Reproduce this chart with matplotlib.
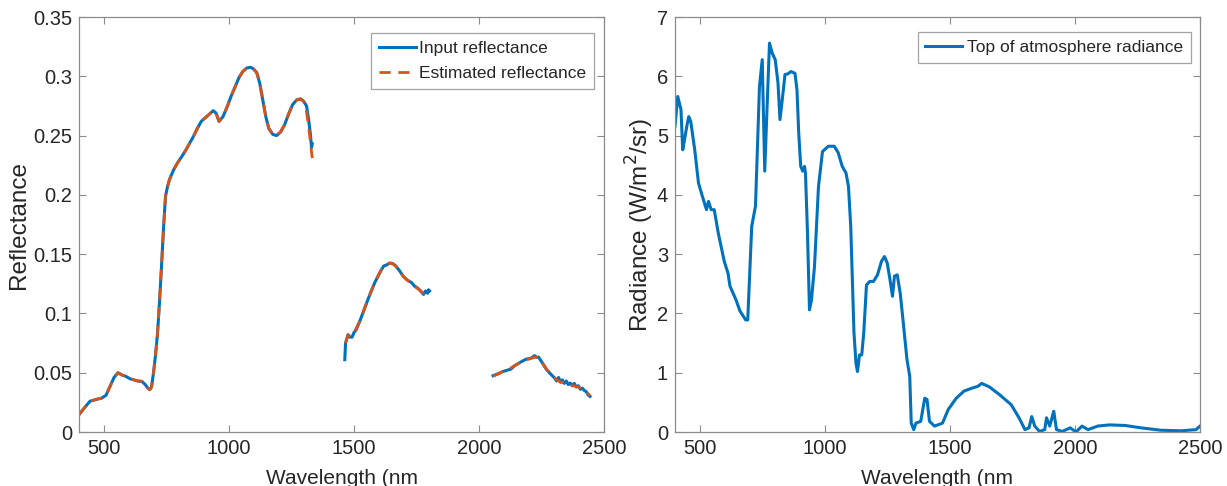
import numpy as np
import matplotlib.pyplot as plt

plt.rcParams['font.family'] = ['Liberation Sans', 'DejaVu Sans']

# reflectance segments (nm, value)
seg1_wl = [400, 420, 444, 470, 492, 508, 524, 540, 556, 572, 587, 603, 619, 635, 651,
           665, 675, 683, 690, 698, 706, 714, 722, 730, 738, 746, 754, 762, 778, 794, 810,
           825, 841, 857, 873, 889, 905, 921, 937, 948, 960, 976, 992, 1008, 1024, 1040,
           1055, 1071, 1087, 1099, 1111, 1123, 1135, 1147, 1159, 1175, 1190, 1206, 1222,
           1238, 1254, 1270, 1286, 1298, 1310, 1318, 1325, 1330, 1333]
seg1_in = [0.0146, 0.020, 0.026, 0.0275, 0.0287, 0.031, 0.0385, 0.046, 0.050, 0.048,
           0.047, 0.045, 0.044, 0.043, 0.0427, 0.040, 0.037, 0.0357, 0.038, 0.050, 0.065,
           0.083, 0.110, 0.140, 0.172, 0.199, 0.207, 0.213, 0.221, 0.227, 0.232, 0.237,
           0.243, 0.249, 0.256, 0.262, 0.265, 0.268, 0.271, 0.269, 0.262, 0.266, 0.274,
           0.283, 0.291, 0.299, 0.304, 0.307, 0.3076, 0.306, 0.303, 0.294, 0.280, 0.266,
           0.256, 0.251, 0.250, 0.253, 0.259, 0.268, 0.276, 0.280, 0.281, 0.279, 0.275,
           0.264, 0.252, 0.240, 0.243]
seg1_est = seg1_in[:-5] + [0.270, 0.258, 0.246, 0.236, 0.231]

seg2_wl = [1463, 1466, 1476, 1484, 1492, 1500, 1508, 1524, 1540, 1556, 1571, 1583,
           1595, 1607, 1619, 1631, 1643, 1655, 1667, 1682, 1698, 1714, 1730, 1742, 1754,
           1766, 1778, 1786, 1794, 1798, 1802]
seg2_in = [0.061, 0.075, 0.082, 0.080, 0.080, 0.084, 0.086, 0.094, 0.103, 0.112,
           0.120, 0.126, 0.131, 0.136, 0.140, 0.141, 0.1425, 0.142, 0.140, 0.136,
           0.131, 0.128, 0.126, 0.123, 0.1215, 0.119, 0.116, 0.119, 0.117, 0.120, 0.119]
seg2_est = [np.nan, 0.075, 0.082, 0.081, 0.081, 0.084, 0.087, 0.094, 0.103, 0.112,
            0.120, 0.126, 0.131, 0.136, 0.140, 0.141, 0.1425, 0.142, 0.140, 0.136,
            0.131, 0.128, 0.125, 0.123, 0.121, 0.119, 0.117, 0.118, 0.118, 0.119, 0.119]

seg3_wl = [2056, 2075, 2095, 2111, 2127, 2143, 2159, 2175, 2190, 2206, 2222, 2230,
           2238, 2254, 2270, 2286, 2302, 2310, 2318, 2326, 2333, 2341, 2349, 2357, 2365,
           2373, 2381, 2389, 2397, 2405, 2413, 2421, 2429, 2437, 2444]
seg3_in = [0.0475, 0.049, 0.051, 0.052, 0.053, 0.056, 0.058, 0.060, 0.0616, 0.062,
           0.0644, 0.063, 0.0632, 0.058, 0.0526, 0.049, 0.0455, 0.043, 0.046, 0.042,
           0.044, 0.041, 0.043, 0.040, 0.0413, 0.039, 0.041, 0.038, 0.039, 0.036,
           0.037, 0.035, 0.034, 0.031, 0.030]
seg3_est = [0.047, 0.049, 0.051, 0.052, 0.054, 0.056, 0.058, 0.060, 0.061, 0.062,
            0.063, 0.063, 0.063, 0.058, 0.053, 0.049, 0.046, 0.044, 0.043, 0.042,
            0.042, 0.041, 0.041, 0.040, 0.040, 0.039, 0.039, 0.038, 0.038, 0.037,
            0.036, 0.035, 0.034, 0.032, 0.031]

# top of atmosphere radiance
toa_wl = [400, 411, 424, 431, 439, 447, 455, 463, 479, 494, 510, 526, 534, 545, 557,
          573, 597, 612, 620, 644, 660, 683, 691, 707, 722, 738, 749, 759, 767, 778,
          789, 801, 812, 820, 829, 840, 851, 864, 880, 888, 895, 903, 911, 918, 922,
          930, 938, 946, 958, 974, 990, 1013, 1037, 1053, 1069, 1084, 1094, 1103, 1116,
          1124, 1130, 1138, 1147, 1155, 1166, 1179, 1194, 1210, 1226, 1238, 1249, 1260,
          1270, 1278, 1289, 1301, 1312, 1328, 1339, 1345, 1355, 1364, 1383, 1399, 1408,
          1418, 1438, 1470, 1493, 1525, 1556, 1588, 1611, 1627, 1658, 1698, 1745, 1776,
          1800, 1816, 1827, 1839, 1858, 1879, 1886, 1899, 1915, 1926, 1949, 1981, 2004,
          2028, 2052, 2091, 2138, 2201, 2264, 2343, 2423, 2484, 2500]
toa_rad = [5.15, 5.66, 5.44, 4.76, 4.95, 5.15, 5.32, 5.24, 4.76, 4.20, 3.97, 3.75,
           3.89, 3.75, 3.75, 3.36, 2.88, 2.68, 2.46, 2.23, 2.04, 1.89, 1.89, 3.47, 3.81,
           5.83, 6.28, 4.40, 5.32, 6.56, 6.39, 6.28, 5.89, 5.27, 5.60, 6.03, 6.04, 6.08,
           6.05, 5.77, 5.04, 4.48, 4.40, 4.48, 4.37, 3.36, 2.06, 2.23, 2.79, 4.14, 4.73,
           4.82, 4.82, 4.71, 4.48, 4.37, 4.14, 3.47, 1.67, 1.16, 1.02, 1.30, 1.30, 1.67,
           2.48, 2.54, 2.54, 2.65, 2.88, 2.96, 2.85, 2.57, 2.29, 2.63, 2.65, 2.34, 1.89,
           1.22, 0.94, 0.15, 0.04, 0.15, 0.18, 0.57, 0.55, 0.18, 0.10, 0.15, 0.38, 0.57,
           0.69, 0.74, 0.77, 0.82, 0.76, 0.63, 0.46, 0.24, 0.04, 0.07, 0.26, 0.10, 0.01,
           0.04, 0.24, 0.10, 0.35, 0.04, 0.01, 0.07, 0.0, 0.10, 0.04, 0.10, 0.12, 0.11,
           0.07, 0.03, 0.02, 0.04, 0.10]

blue = '#0072BD'
orange = '#D95319'
txt = '#262626'
spine = '#8c8c8c'

fig = plt.figure(figsize=(12.27, 4.86), dpi=100)
ax1 = fig.add_axes([0.0644, 0.1111, 0.4279, 0.8539])
ax2 = fig.add_axes([0.5501, 0.1111, 0.4279, 0.8539])

for wl, r_in, r_est in [(seg1_wl, seg1_in, seg1_est),
                        (seg2_wl, seg2_in, seg2_est),
                        (seg3_wl, seg3_in, seg3_est)]:
    ax1.plot(wl, r_in, color=blue, lw=2.2, label='Input reflectance')
    ax1.plot(wl, r_est, color=orange, lw=2.0, dashes=(4, 2.8),
             label='Estimated reflectance')

ax2.plot(toa_wl, toa_rad, color=blue, lw=2.2, label='Top of atmosphere radiance')

ax1.set_xlim(400, 2500)
ax1.set_ylim(0, 0.35)
ax1.set_yticks(np.arange(0, 0.351, 0.05))
ax1.set_yticklabels(['0', '0.05', '0.1', '0.15', '0.2', '0.25', '0.3', '0.35'])
ax1.set_ylabel('Reflectance', fontsize=17.5, color=txt)
ax1.yaxis.set_label_coords(-0.093, 0.5)

ax2.set_xlim(400, 2500)
ax2.set_ylim(0, 7)
ax2.set_yticks(range(0, 8))
ax2.set_ylabel('Radiance (W/m$^2$/sr)', fontsize=17.5, color=txt)
ax2.yaxis.set_label_coords(-0.036, 0.5)

for ax in (ax1, ax2):
    ax.set_xticks([500, 1000, 1500, 2000, 2500])
    ax.set_xlabel('Wavelength (nm', fontsize=15, color=txt)
    ax.xaxis.set_label_coords(0.5, -0.088)
    ax.tick_params(direction='in', top=True, right=True, length=5, width=0.8,
                   labelsize=14.5, colors=txt, color=spine, pad=5)
    for s in ax.spines.values():
        s.set_color(spine)
        s.set_linewidth(0.9)

h, l = ax1.get_legend_handles_labels()
leg1 = ax1.legend(h[:2], l[:2], loc='upper right', fontsize=12.5, frameon=True,
                  fancybox=False, edgecolor=spine, handlelength=2.1,
                  handletextpad=0.2, borderpad=0.45, labelspacing=0.55,
                  borderaxespad=0, bbox_to_anchor=(0.981, 0.961))
leg2 = ax2.legend(loc='upper right', fontsize=12.5, frameon=True, fancybox=False,
                  edgecolor=spine, handlelength=2.1, handletextpad=0.3,
                  borderpad=0.45, borderaxespad=0, bbox_to_anchor=(0.983, 0.964))
for leg in (leg1, leg2):
    leg.get_frame().set_linewidth(0.9)
    for t in leg.get_texts():
        t.set_color(txt)

fig.savefig('out.png', dpi=100)
